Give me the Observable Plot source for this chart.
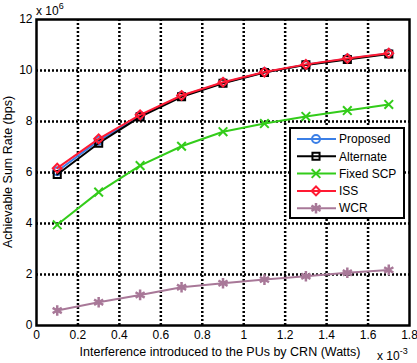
<!DOCTYPE html>
<html>
<head>
<meta charset="utf-8">
<script src="https://cdn.jsdelivr.net/npm/d3@7"></script>
<script src="https://cdn.jsdelivr.net/npm/@observablehq/plot@0.6"></script>
<style>
  html, body { margin: 0; padding: 0; background: #fff; }
  #chart { width: 417px; height: 363px; }
</style>
</head>
<body>
<div id="chart"></div>
<script>
// x: interference (×10^-3 W); y: achievable sum rate (×10^6 bps)
const xValues   = [0.1, 0.3, 0.5, 0.7, 0.9, 1.1, 1.3, 1.5, 1.7];
const proposed  = [6.05, 7.25, 8.22, 9.00, 9.52, 9.93, 10.23, 10.46, 10.67];
const alternate = [5.92, 7.15, 8.18, 8.97, 9.50, 9.92, 10.22, 10.43, 10.65];
const fixedSCP  = [3.95, 5.23, 6.27, 7.03, 7.60, 7.92, 8.20, 8.43, 8.67];
const iss       = [6.17, 7.32, 8.26, 9.02, 9.54, 9.94, 10.24, 10.47, 10.68];
const wcr       = [0.59, 0.91, 1.20, 1.50, 1.66, 1.80, 1.93, 2.07, 2.18];

const seriesNames = ["Proposed", "Alternate", "Fixed SCP", "ISS", "WCR"];
const seriesColors = ["#3b7fe6", "#000000", "#33cc1a", "#ff1a33", "#a87898"];
const seriesSymbols = ["circle", "square", "times", "diamond2", "asterisk"];
const seriesData = [proposed, alternate, fixedSCP, iss, wcr];

const xTicks = [0, 0.2, 0.4, 0.6, 0.8, 1, 1.2, 1.4, 1.6, 1.8];
const yTicks = [0, 2, 4, 6, 8, 10, 12];

const rows = [];
seriesNames.forEach((name, i) => {
  seriesData[i].forEach((v, j) => rows.push({series: name, x: xValues[j], y: v}));
});

const W = 417, H = 363;
const mL = 36, mR = 8, mT = 19, mB = 38;

const gridStyle = {stroke: "black", strokeOpacity: 1, strokeWidth: 2.5, strokeDasharray: "2,2"};
const marks = [
  Plot.gridX(xTicks.slice(1, -1), gridStyle),
  Plot.gridY(yTicks.slice(1, -1), gridStyle),
  Plot.axisX(xTicks, {tickSize: 0, tickPadding: 5, tickFormat: d => String(d), label: null, fontSize: 12}),
  Plot.axisY(yTicks, {tickSize: 0, tickPadding: 4, tickFormat: d => String(d), label: null, fontSize: 12})
];
seriesNames.forEach((name, i) => {
  const d = rows.filter(r => r.series === name);
  marks.push(Plot.line(d, {x: "x", y: "y", stroke: seriesColors[i], strokeWidth: 2}));
  marks.push(Plot.dot(d, {x: "x", y: "y", stroke: seriesColors[i], fill: "none",
    symbol: () => seriesSymbols[i], r: name === "WCR" ? 5 : 4, strokeWidth: name === "WCR" ? 2.5 : 2}));
});
marks.push(Plot.frame({stroke: "black", strokeWidth: 2.5}));

const chart = Plot.plot({
  width: W, height: H,
  marginLeft: mL, marginRight: mR, marginTop: mT, marginBottom: mB,
  x: {domain: [0, 1.8]},
  y: {domain: [0, 12]},
  style: {fontFamily: "'Liberation Sans', Arial, sans-serif", fontSize: "12px", color: "black", background: "white"},
  marks
});
document.getElementById("chart").appendChild(chart);

// Annotations (axis titles, exponents) and legend
const svg = d3.select(chart);
const ff = "'Liberation Sans', Arial, sans-serif";

svg.append("text").attr("x", 220).attr("y", 356).attr("text-anchor", "middle")
  .attr("font-family", ff).attr("font-size", 12.5).attr("fill", "black")
  .text("Interference introduced to the PUs by CRN (Watts)");

svg.append("text").attr("transform", "translate(12,172) rotate(-90)").attr("text-anchor", "middle")
  .attr("font-family", ff).attr("font-size", 12.5).attr("fill", "black")
  .text("Achievable Sum Rate (bps)");

const e6 = svg.append("text").attr("x", 36).attr("y", 15).attr("text-anchor", "start")
  .attr("font-family", ff).attr("font-size", 12).attr("fill", "black");
e6.append("tspan").text("x 10");
e6.append("tspan").attr("font-size", 9).attr("dy", -6).text("6");

const e3 = svg.append("text").attr("x", 377).attr("y", 360).attr("text-anchor", "start")
  .attr("font-family", ff).attr("font-size", 12).attr("fill", "black");
e3.append("tspan").text("x 10");
e3.append("tspan").attr("font-size", 9).attr("dy", -6).text("-3");

const lg = svg.append("g");
lg.append("rect").attr("x", 290).attr("y", 128).attr("width", 114).attr("height", 90)
  .attr("fill", "white").attr("stroke", "black").attr("stroke-width", 2);
const symMap = {circle: d3.symbolCircle, square: d3.symbolSquare, times: d3.symbolTimes,
  diamond2: d3.symbolDiamond2, asterisk: d3.symbolAsterisk};
seriesNames.forEach((name, i) => {
  const y = 139 + i * 17.3;
  lg.append("line").attr("x1", 297).attr("x2", 336).attr("y1", y).attr("y2", y)
    .attr("stroke", seriesColors[i]).attr("stroke-width", 2);
  const r = name === "WCR" ? 5 : 4;
  lg.append("path").attr("transform", `translate(316,${y})`)
    .attr("d", d3.symbol(symMap[seriesSymbols[i]], Math.PI * r * r)())
    .attr("fill", "none").attr("stroke", seriesColors[i]).attr("stroke-width", name === "WCR" ? 2.5 : 2);
  lg.append("text").attr("x", 339).attr("y", y).attr("dy", "0.35em").attr("text-anchor", "start")
    .attr("font-family", ff).attr("font-size", 12).attr("fill", "black").text(name);
});
</script>
</body>
</html>
